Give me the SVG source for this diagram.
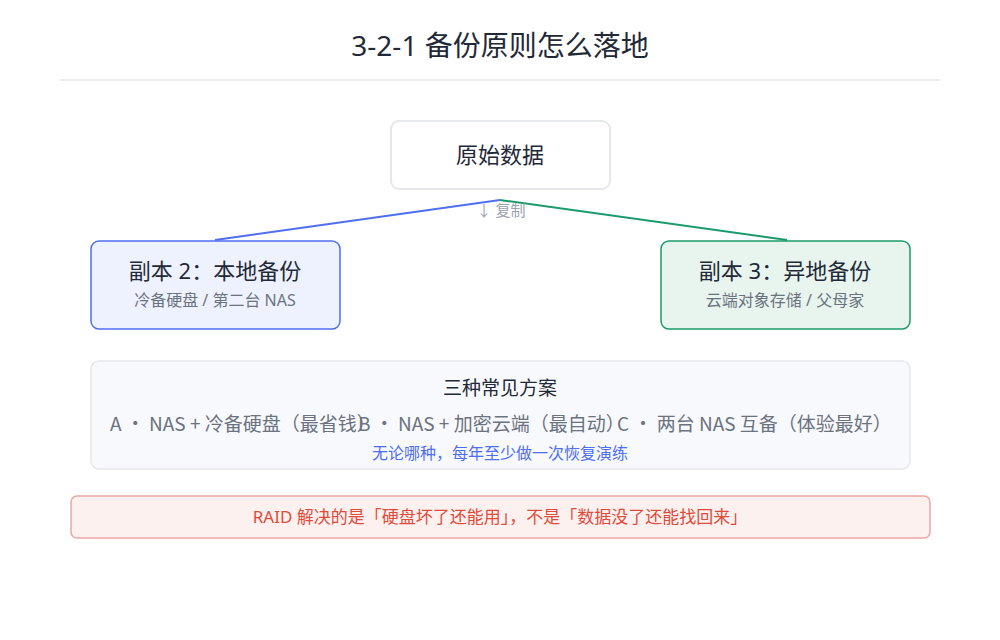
<svg xmlns="http://www.w3.org/2000/svg" width="1000" height="640" viewBox="0 0 1000 640">
<style>
text{font-family:"Noto Sans","Noto Sans CJK SC",sans-serif}
.t{fill:#1f2937}
.s{fill:#6b7280}
.o{font-family:"Noto Sans CJK SC","Noto Sans",sans-serif;font-size:19px;fill:#6b7280}
</style>
<rect width="1000" height="640" fill="#fff"/>
<text x="500" y="56" text-anchor="middle" font-size="28" class="t">3-2-1 备份原则怎么落地</text>
<line x1="60" y1="80" x2="940" y2="80" stroke="#e5e7eb" stroke-width="1.5"/>
<g id="connectors" fill="none" stroke-width="2">
<polyline points="500,200 215,240" stroke="#4f6ef2"/>
<polyline points="500,200 787,240" stroke="#1a9a6a"/>
<text x="501" y="216" text-anchor="middle" font-size="15" fill="#9ca3af" stroke="none">↓ 复制</text>
</g>
<g id="n-src"><rect x="391" y="121" width="219" height="68" rx="8" fill="#fff" stroke="#e5e7eb" stroke-width="2"/>
<text x="500" y="163" text-anchor="middle" font-size="22" class="t">原始数据</text></g>
<g id="n-local"><rect x="91" y="241" width="249" height="88" rx="8" fill="#eef2fe" stroke="#4f6ef2" stroke-width="1.5"/>
<text x="215" y="279" text-anchor="middle" font-size="22" class="t">副本 2：本地备份</text>
<text x="215" y="306" text-anchor="middle" font-size="16" class="s">冷备硬盘 / 第二台 NAS</text></g>
<g id="n-remote"><rect x="661" y="241" width="249" height="88" rx="8" fill="#e8f5ee" stroke="#1a9a6a" stroke-width="1.5"/>
<text x="785" y="279" text-anchor="middle" font-size="22" class="t">副本 3：异地备份</text>
<text x="785" y="306" text-anchor="middle" font-size="16" class="s">云端对象存储 / 父母家</text></g>
<g id="n-options"><rect x="91" y="361" width="819" height="108" rx="8" fill="#f8f9fc" stroke="#e5e7eb" stroke-width="1.5"/>
<text x="500" y="395" text-anchor="middle" font-size="19" class="t">三种常见方案</text>
<text x="110" y="431" class="o">A · NAS + 冷备硬盘（最省钱）</text>
<text x="358" y="431" class="o">B · NAS + 加密云端（最自动）</text>
<text x="617" y="431" class="o">C · 两台 NAS 互备（体验最好）</text>
<text x="500" y="459" text-anchor="middle" font-size="16" fill="#4f6ef2">无论哪种，每年至少做一次恢复演练</text></g>
<g id="n-note"><rect x="71" y="496" width="859" height="42" rx="6" fill="#fdf1f0" stroke="#eaa8a2" stroke-width="1.5"/>
<text x="500" y="523" text-anchor="middle" font-size="17" fill="#e04a3a">RAID 解决的是「硬盘坏了还能用」，不是「数据没了还能找回来」</text></g>
</svg>
